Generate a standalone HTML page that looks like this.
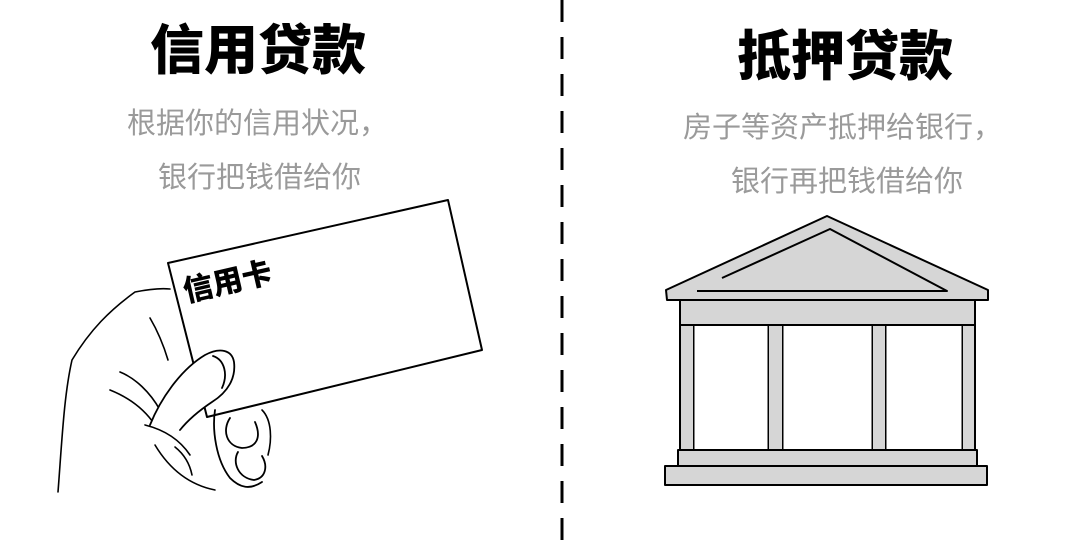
<!DOCTYPE html>
<html><head><meta charset="utf-8"><style>
body{margin:0;width:1080px;height:540px;background:#fff;overflow:hidden;position:relative;font-family:"Liberation Sans","Noto Sans CJK SC",sans-serif}
.t{position:absolute;font-weight:900;font-size:54px;line-height:1;color:#000;white-space:nowrap}
.s{position:absolute;font-size:29px;line-height:1;color:#9a9a9a;white-space:nowrap}
</style></head><body>
<div class="t" style="left:150px;top:24px">信用贷款</div>
<div class="s" style="left:127px;top:110px">根据你的信用状况，</div>
<div class="s" style="left:158px;top:164px">银行把钱借给你</div>
<div class="t" style="left:737px;top:30px">抵押贷款</div>
<div class="s" style="left:683px;top:114px">房子等资产抵押给银行，</div>
<div class="s" style="left:731px;top:168px">银行再把钱借给你</div>
<svg width="1080" height="540" style="position:absolute;left:0;top:0">
<line x1="562" y1="0" x2="562" y2="540" stroke="#000" stroke-width="3" stroke-dasharray="22,15"/>
<!-- hand -->
<g fill="none" stroke="#000" stroke-width="1.6" stroke-linecap="round">
<path d="M58,492 C62,440 64,395 72,360 C90,330 110,310 135,292 C150,289 160,288 170,289"/>
<path d="M120,372 C135,378 150,392 160,410"/>
<path d="M110,390 C130,398 145,410 155,425"/>
<path d="M145,425 C165,430 180,440 190,455"/>
<path d="M175,447 C185,455 190,465 192,475"/>
<path d="M150,318 C160,335 165,350 168,360"/>
<path d="M262,410 C272,420 272,440 268,455"/>
<path d="M155,445 C170,470 190,485 215,490"/>
</g>
<!-- card -->
<polygon points="168,263 448,200 482,350 207,417" fill="#fff" stroke="#000" stroke-width="2" stroke-linejoin="round"/>
<g fill="#fff" stroke="#000" stroke-width="1.8" stroke-linecap="round">
<path d="M150,425 C160,400 180,370 205,355 C220,347 232,350 234,362 C236,378 228,392 212,402 C200,410 188,420 180,430"/>
<path d="M213,356 C225,360 228,375 222,388" fill="none"/>
<path d="M230,418 C222,430 226,446 242,448 C256,448 262,438 255,422"/>
<path d="M238,452 C232,462 238,478 254,480 C266,478 268,466 262,456"/>
<path d="M215,410 C212,430 216,460 230,478 C240,488 250,490 262,482" fill="none"/>
</g>
<text x="186" y="302" transform="rotate(-13 186 302)" font-family="Liberation Sans,Noto Sans CJK SC,sans-serif" font-weight="900" font-size="30">信用卡</text>
<!-- building -->
<g stroke="#000" stroke-width="2" fill="#d6d6d6" stroke-linejoin="round">
<polygon points="827,216 988,290 988,300 667,300 666,290"/>
<rect x="680" y="300" width="295" height="25"/>
<rect x="680" y="325" width="14" height="125"/>
<rect x="768" y="325" width="15" height="125"/>
<rect x="872" y="325" width="14" height="125"/>
<rect x="962" y="325" width="13" height="125"/>
<rect x="678" y="450" width="299" height="16"/>
<rect x="665" y="466" width="322" height="19"/>
<polyline points="697,291 947,291 830,229 722,278" fill="none"/>
</g>
<rect x="694.5" y="326" width="73" height="123" fill="#fff"/>
<rect x="783.5" y="326" width="88" height="123" fill="#fff"/>
<rect x="886.5" y="326" width="75" height="123" fill="#fff"/>
</svg>
</body></html>
